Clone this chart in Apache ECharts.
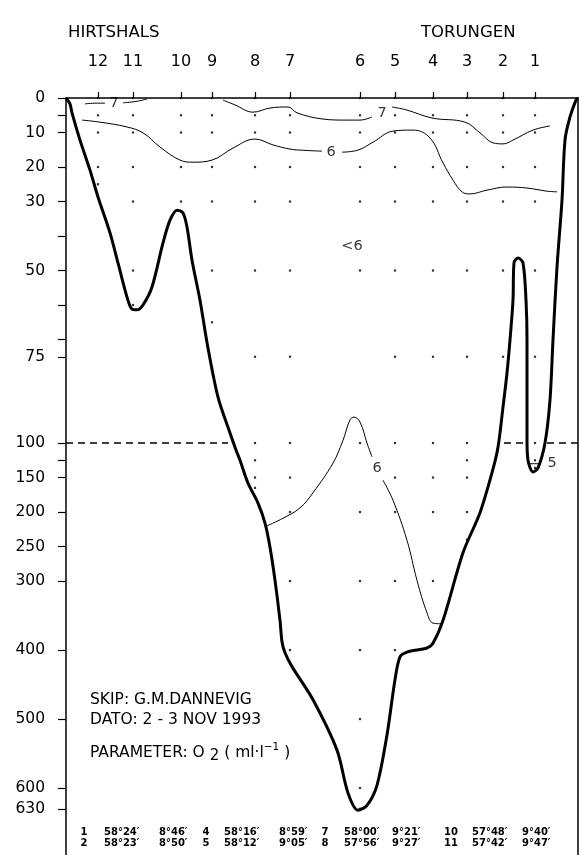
<!DOCTYPE html>
<html>
<head>
<meta charset="utf-8">
<script src="https://cdn.jsdelivr.net/npm/echarts@6/dist/echarts.min.js"></script>
<style>
  html, body { margin: 0; padding: 0; background: #fff; }
  #chart { width: 581px; height: 855px; }
</style>
</head>
<body>
<div id="chart"></div>
<script>
// stations along the section, distance from the Hirtshals end (section units)
const stationNames = ['12', '11', '10', '9', '8', '7', '6', '5', '4', '3', '2', '1'];
const stationDist = [32, 67, 115, 146, 189, 224, 294, 329, 367, 401, 437, 469];

// sampling depths (m) at each station, same order as above
const sampleDepths = [
  [0, 5, 10, 20, 25],
  [0, 5, 10, 20, 30, 50, 60],
  [0, 5, 10, 20, 30],
  [0, 5, 10, 20, 30, 50, 65],
  [0, 5, 10, 20, 30, 50, 75, 100, 125, 150, 165],
  [0, 5, 10, 20, 30, 50, 75, 100, 150, 200, 300, 400],
  [0, 5, 10, 20, 30, 50, 100, 200, 300, 400, 500, 600, 630],
  [0, 5, 10, 20, 30, 50, 75, 100, 150, 200, 300, 400],
  [0, 5, 10, 20, 30, 50, 75, 100, 150, 200, 300, 390],
  [0, 5, 10, 20, 30, 50, 75, 100, 125, 150, 200, 240],
  [0, 5, 10, 20, 30, 50, 75],
  [0, 5, 10, 20, 30, 50, 75, 100, 125, 136]
];

// depth axis
const depthTicks = [0, 5, 10, 20, 30, 40, 50, 60, 70, 75, 100, 125, 150, 200, 250, 300, 400, 500, 600, 630];
const depthLabels = [0, 10, 20, 30, 50, 75, 100, 150, 200, 250, 300, 400, 500, 600, 630];

// bottom profile
const bottomDist = [0, 4, 6, 14, 24, 32, 44, 52, 61, 66, 71, 77, 86, 97, 104, 111, 117, 121, 126, 134, 142, 152,
  164, 170, 174, 182, 192, 199, 204, 209, 214, 216, 219, 226, 247, 271, 282, 292, 301, 311, 321, 329, 334, 341,
  361, 367, 377, 397, 414, 426, 432, 437, 441, 444, 447, 448, 452, 457, 460, 461, 461, 462, 467, 472, 479,
  484, 487, 491, 496, 499, 504, 510, 512];
const bottomDepth = [0, 1.7, 4.3, 12.2, 20.9, 28.7, 39.1, 47.8, 57.7, 61.2, 61.4, 60, 54.8, 42, 35.4, 32.5, 33.3,
  37.4, 47, 58.6, 72.5, 86.7, 97.1, 110, 125, 158, 187, 216, 251, 299, 357, 388, 404, 424, 472, 545, 607, 632, 625,
  596, 523, 443, 410, 403, 397, 390, 357, 259, 201, 143, 106, 89.6, 79.7, 70.1, 58.6, 47.8, 46.4, 47.8, 58.6,
  70.1, 99, 125, 142, 136, 100, 87.5, 70.1, 49, 29.6, 12.2, 5.5, 0.6, 0];

// O2 isolines (ml/l): [distance, depth]
const iso7West = [[19, 1.7], [30, 1.5], [39, 1.5]];
const iso7WestB = [[57, 1.4], [70, 1.0], [81, 0.3]];
const iso7East = [[157, 0.6], [169, 2], [187, 4.1], [204, 2.9], [222, 2.6], [231, 4.3], [257, 6.1], [279, 6.4],
  [294, 6.4], [306, 5.5], null, [326, 2.6], [341, 3.5], [366, 5.8], [399, 7], [414, 10.1], [427, 13],
  [437, 13.3], [447, 12.2], [467, 9.3], [484, 8.1]];
const iso6Upper = [[16, 6.4], [34, 7], [61, 8.4], [77, 10.1], [94, 14.2], [114, 18], [127, 18.6], [146, 18],
  [167, 14.5], [189, 11.9], [207, 13.6], [224, 14.8], [234, 15.1], [256, 15.4], null, [276, 15.7], [292, 15.1],
  [307, 12.8], [327, 9.6], [347, 9.3], [364, 11.6], [377, 18.8], [387, 23.8], [396, 27.2], [404, 27.8],
  [421, 26.7], [441, 25.8], [461, 26.1], [481, 27], [491, 27.2]];
const iso6Deep = [[201, 220], [217, 209], [234, 194], [247, 172], [267, 129], [277, 99.2], [284, 93.3],
  [288, 92.5], [294, 93.9], [301, 100], [306, 120], null, [317, 154], [327, 183], [341, 241], [351, 299],
  [361, 346], [367, 361], [376, 362]];
const iso5 = [[462, 130], [475, 130]];

// isoline labels: [distance, depth, text]
const isoLabels = [[48, 1.6, '7'], [316, 4.3, '7'], [265, 15.7, '6'], [311, 136, '6'], [486, 130, '5'], [286, 43, '<6']];

// 100 m scale break, drawn over land
const breakWest = [[0, 100], [162, 100]];
const breakEastA = [[438, 100], [459, 100]];
const breakEastB = [[481, 100], [512, 100]];

// station positions table
const posStation = ['1', '2', '4', '5', '7', '8', '10', '11'];
const posLat = ['58°24′', '58°23′', '58°16′', '58°12′', '58°00′', '57°56′', '57°48′', '57°42′'];
const posLon = ['8°46′', '8°50′', '8°59′', '9°05′', '9°21′', '9°27′', '9°40′', '9°47′'];

// depth -> axis value: 0-100 m on one scale, below 100 m compressed 5x
const sc = d => (d <= 100 ? d : 100 + (d - 100) / 5);
const unsc = v => (v <= 100 ? v : 100 + (v - 100) * 5);
const pts = arr => arr.map(p => (p ? [p[0], sc(p[1])] : '-'));

const FONT = 'DejaVu Sans';

const dots = [];
stationDist.forEach((x, i) => sampleDepths[i].forEach(d => dots.push([x, sc(d)])));

const thin = { color: '#000', width: 1 };
const isoSeries = [iso7West, iso7WestB, iso7East, iso6Upper, iso6Deep, iso5].map(a => ({
  type: 'line', data: pts(a), smooth: 0.4, symbol: 'none', clip: false,
  connectNulls: false, lineStyle: thin, z: 3, silent: true
}));
const breakSeries = [breakWest, breakEastA, breakEastB].map(a => ({
  type: 'line', data: pts(a), symbol: 'none', clip: false,
  lineStyle: { color: '#000', width: 1.5, type: [7, 5] }, z: 2, silent: true
}));

// bottom table text
const tableGraphics = [];
const colNo = [84, 206, 325, 451], colLat = [104, 224, 344, 472], colLon = [159, 279, 392, 522];
posStation.forEach((s, i) => {
  const g = Math.floor(i / 2), row = i % 2, y = 832 + row * 11;
  const st = { fontFamily: FONT, fontSize: 10, fontWeight: 'bold', fill: '#000', verticalAlign: 'middle' };
  tableGraphics.push({ type: 'text', x: colNo[g], y, style: Object.assign({ text: s, align: 'center' }, st) });
  tableGraphics.push({ type: 'text', x: colLat[g], y, style: Object.assign({ text: posLat[i] }, st) });
  tableGraphics.push({ type: 'text', x: colLon[g], y, style: Object.assign({ text: posLon[i] }, st) });
});

const chart = echarts.init(document.getElementById('chart'));
chart.setOption({
  animation: false,
  backgroundColor: '#fff',
  grid: { left: 66, right: 3, top: 98, bottom: 0 },
  xAxis: {
    type: 'value', position: 'top', offset: 16, min: 0, max: 512,
    axisLine: { lineStyle: { color: '#000', width: 1.5 } },
    axisTick: { customValues: stationDist, length: 6, lineStyle: { color: '#000', width: 1.2 } },
    axisLabel: {
      customValues: stationDist, margin: 12, color: '#000', fontFamily: FONT, fontSize: 16,
      formatter: v => stationNames[stationDist.indexOf(v)]
    },
    splitLine: { show: false }
  },
  yAxis: [{
    type: 'value', inverse: true, min: 0, max: 219.4,
    axisLine: { show: true, lineStyle: { color: '#000', width: 1.5 } },
    axisTick: { customValues: depthTicks.map(sc), length: 8, lineStyle: { color: '#000', width: 1.2 } },
    axisLabel: {
      customValues: depthLabels.map(sc), margin: 21, color: '#000', fontFamily: FONT, fontSize: 15.5,
      formatter: v => String(Math.round(unsc(v)))
    },
    splitLine: { show: false }
  }, {
    type: 'value', inverse: true, min: 0, max: 219.4, position: 'right',
    axisLine: { show: true, lineStyle: { color: '#000', width: 1.5 } },
    axisTick: { show: false }, axisLabel: { show: false }, splitLine: { show: false }
  }],
  graphic: [
    { type: 'text', x: 68, y: 33, style: { text: 'HIRTSHALS', fontFamily: FONT, fontSize: 16.5, fill: '#000', verticalAlign: 'middle' } },
    { type: 'text', x: 421, y: 33, style: { text: 'TORUNGEN', fontFamily: FONT, fontSize: 16.5, fill: '#000', verticalAlign: 'middle' } },
    { type: 'text', x: 90, y: 700, style: { text: 'SKIP: G.M.DANNEVIG', fontFamily: FONT, fontSize: 15.5, fill: '#000', verticalAlign: 'middle' } },
    { type: 'text', x: 90, y: 720, style: { text: 'DATO: 2 - 3 NOV 1993', fontFamily: FONT, fontSize: 15.5, fill: '#000', verticalAlign: 'middle' } },
    {
      type: 'text', x: 90, y: 753,
      style: {
        text: '{a|PARAMETER: O }{b|2}{a| ( ml·l}{c|−1}{a| )}',
        verticalAlign: 'middle', fill: '#000',
        rich: {
          a: { fontFamily: FONT, fontSize: 15.5, lineHeight: 22, verticalAlign: 'middle' },
          b: { fontFamily: FONT, fontSize: 15, lineHeight: 15, verticalAlign: 'bottom' },
          c: { fontFamily: FONT, fontSize: 10.5, lineHeight: 11, verticalAlign: 'top' }
        }
      }
    }
  ].concat(tableGraphics),
  series: [
    {
      type: 'scatter', data: dots, symbol: 'rect', symbolSize: 2.2, clip: false,
      itemStyle: { color: '#000' }, z: 1, silent: true
    },
    {
      type: 'line', data: bottomDist.map((x, i) => [x, sc(bottomDepth[i])]), smooth: 0.3,
      symbol: 'none', clip: false, lineStyle: { color: '#000', width: 3 }, z: 5, silent: true
    },
    ...isoSeries,
    ...breakSeries,
    {
      type: 'scatter', data: isoLabels.map(l => [l[0], sc(l[1]), l[2]]), symbolSize: 1, clip: false,
      itemStyle: { color: 'rgba(0,0,0,0)' }, z: 6, silent: true,
      label: {
        show: true, position: 'inside', color: '#000', fontFamily: FONT, fontSize: 14.5,
        formatter: p => p.data[2]
      }
    }
  ]
});
</script>
</body>
</html>
